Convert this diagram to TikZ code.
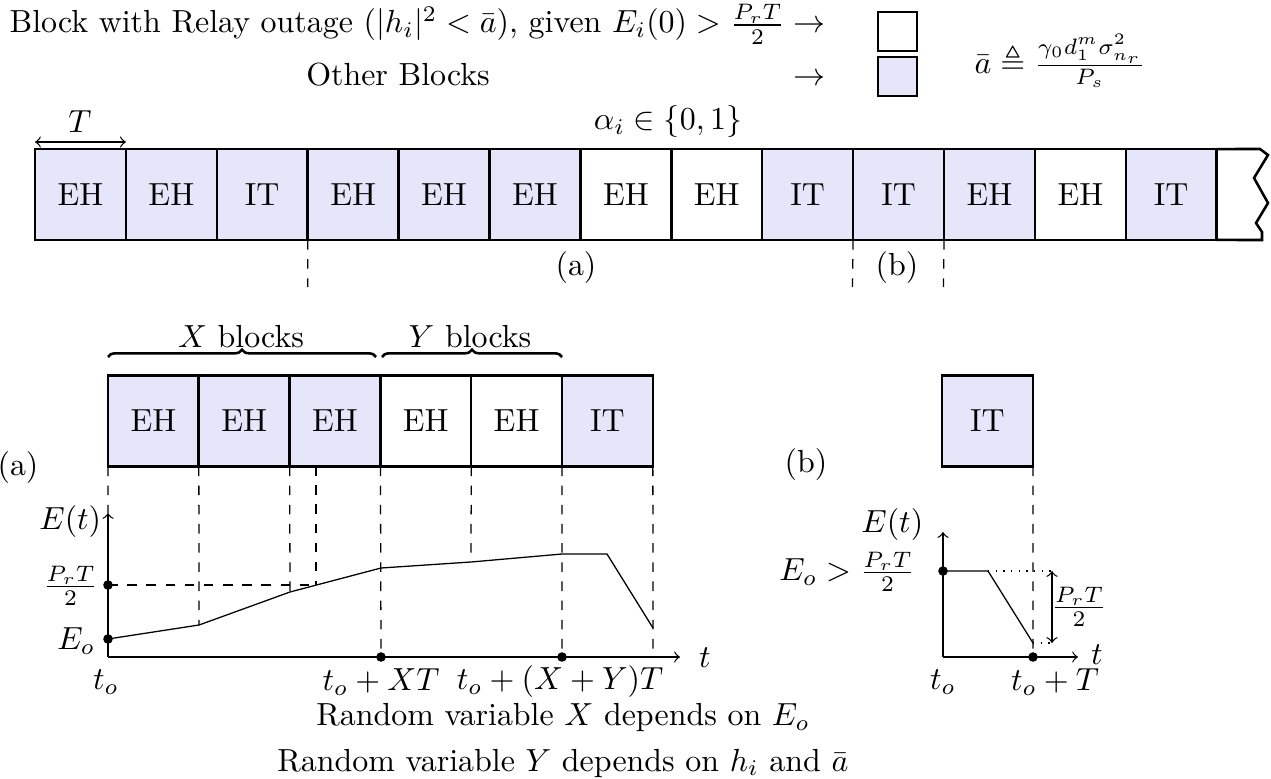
\documentclass[tikz,border=0pt]{standalone}
\usepackage{amsmath,amssymb}
\usetikzlibrary{decorations.pathreplacing}
\definecolor{blockblue}{RGB}{230,230,250}
\tikzset{
  blk/.style={draw, thick, minimum width=1cm, minimum height=1cm, inner sep=0pt, outer sep=0pt},
  legbox/.style={draw, thick, minimum size=0.43cm, inner sep=0pt},
  guide/.style={dashed, thin},
  dotline/.style={dotted, thin},
  curveline/.style={thin},
  axisline/.style={thin, ->},
  dimline/.style={thin, <->},
  dot/.style={circle, fill=black, inner sep=0pt, minimum size=3pt},
  brc/.style={decorate, decoration={brace, amplitude=2.3pt}, thick},
}
\begin{document}
\begin{tikzpicture}[x=0.011cm, y=-0.011cm]
\useasboundingbox (0,0) rectangle (1271,779);

% ---------- legend ----------
\node[anchor=base west, inner sep=0pt] (leg1) at (9,33) {Block with Relay outage ($|h_i|^2<\bar{a}$), given $E_i(0)>\frac{P_rT}{2}\rightarrow$};
\node[anchor=base, inner sep=0pt] (leg2) at (398,86) {Other Blocks};
\node[anchor=base east, inner sep=0pt] (leg2a) at (leg1.base east |- 0,86) {$\rightarrow$};
\node[legbox, fill=white] (lw) at (897.5,31.5) {};
\node[legbox, fill=blockblue] (lb) at (897.5,76.5) {};
\node[inner sep=1pt] (abar) at (1060,61) {$\bar{a}\triangleq\frac{\gamma_0 d_1^m\sigma_{n_r}^2}{P_s}$};

% ---------- top strip ----------
\foreach \lab/\col [count=\k] in {EH/blockblue,EH/blockblue,IT/blockblue,EH/blockblue,EH/blockblue,EH/blockblue,EH/white,EH/white,IT/blockblue,IT/blockblue,EH/blockblue,EH/white,IT/blockblue}
  \node[blk, fill=\col] (s\k) at ({80.45+90.9*(\k-1)},194.5) {\lab};
\draw[thick] (s13.north east) -- (1260,149) -- (1268,155) -- (1254,178) -- (1268,203) -- (1256,223) -- (1262,232) -- (1262,240) -- (s13.south east);

\coordinate (tl) at ([yshift=2.2pt]s1.north west);
\coordinate (tr) at ([yshift=2.2pt]s1.north east);
\draw[dimline] (tl) -- (tr);
\node (Tlab) at (80,122) {$T$};
\node (alpha) at (668,122) {$\alpha_i\in\{0,1\}$};

\coordinate (da) at (307.7,287);
\coordinate (db1) at (852.5,287);
\coordinate (db2) at (943.4,287);
\draw[guide] (s3.south east) -- (da);
\draw[guide] (s9.south east) -- (db1);
\draw[guide] (s10.south east) -- (db2);
\node (la) at (576,268) {(a)};
\node (lbb) at (897,268) {(b)};

% ---------- lower (a) ----------
\foreach \lab/\col [count=\k] in {EH/blockblue,EH/blockblue,EH/blockblue,EH/white,EH/white,IT/blockblue}
  \node[blk, fill=\col] (l\k) at ({153.4+90.8*(\k-1)},421) {\lab};

\coordinate (bx1) at (108,357);
\coordinate (bx2) at (376,357);
\coordinate (by1) at (382,357);
\coordinate (by2) at (562,357);
\draw[brc] (bx1) -- (bx2);
\draw[brc] (by1) -- (by2);
\node (xb) at (241,337) {$X$ blocks};
\node (yb) at (470,337) {$Y$ blocks};
\node (pa) at (18,468) {(a)};

% axes
\coordinate (oa) at (108,657);
\coordinate (ya) at (108,513);
\coordinate (xa) at (680,657);
\draw[axisline] (oa) -- (ya);
\draw[axisline] (oa) -- (xa);
\node[anchor=east, inner sep=1pt] (Eta) at (105,522) {$E(t)$};
\node (ta) at (705,658) {$t$};

% curve points
\coordinate (c0) at (108,639);
\coordinate (c1) at (199,625);
\coordinate (c2) at (290,592);
\coordinate (c3) at (381,568);
\coordinate (c4) at (471,562);
\coordinate (c5) at (562,554);
\coordinate (c6) at (607,554);
\coordinate (c7) at (653,628);
\coordinate (hp) at (108,585);
\coordinate (hq) at (316,585);
\coordinate (hq0) at (316,466);
\coordinate (x1) at (381,657);
\coordinate (x2) at (562,657);
\coordinate (x3) at (653,657);

% guides
\draw[guide] (l1.south west) -- (ya);
\draw[guide] (l1.south east) -- (c1);
\draw[guide] (l2.south east) -- (c2);
\draw[guide] (hq0) -- (hq);
\draw[guide] (l3.south east) -- (x1);
\draw[guide] (l4.south east) -- (c4);
\draw[guide] (l5.south east) -- (x2);
\draw[guide] (l6.south east) -- (x3);
\draw[guide] (hp) -- (hq);

\draw[curveline] (c0) -- (c1) -- (c2) -- (c3) -- (c4) -- (c5) -- (c6) -- (c7);
\node[dot] (d1) at (hp) {};
\node[dot] (d2) at (c0) {};
\node[dot] (d3) at (x1) {};
\node[dot] (d4) at (x2) {};

\node[anchor=east, inner sep=1pt] (prta) at (102,586) {$\frac{P_rT}{2}$};
\node[anchor=east, inner sep=1pt] (Eoa) at (99,641) {$E_o$};
\node (toa) at (106,682) {$t_o$};
\node (toxt) at (381,682) {$t_o+XT$};
\node (toxyt) at (560,682) {$t_o+(X+Y)T$};

\node (rv1) at (563,718) {Random variable $X$ depends on $E_o$};
\node (rv2) at (563,763) {Random variable $Y$ depends on $h_i$ and $\bar{a}$};

% ---------- lower (b) ----------
\node[blk, fill=blockblue] (rb) at (987.5,421) {IT};
\node (pb) at (806,465) {(b)};
\coordinate (ob) at (943,657);
\coordinate (yb2) at (943,532);
\coordinate (xb2) at (1078,657);
\draw[axisline] (ob) -- (yb2);
\draw[axisline] (ob) -- (xb2);
\node[anchor=east, inner sep=1pt] (Etb) at (927,525) {$E(t)$};
\node (tb) at (1097,655) {$t$};

\coordinate (e0) at (943,571);
\coordinate (e1) at (988,571);
\coordinate (e2) at (1033,643);
\coordinate (e3) at (1033,657);
\coordinate (f1) at (1053,571);
\coordinate (f2) at (1053,643);
\coordinate (g1) at (1052,571);
\coordinate (g2) at (1052,643);

\draw[guide] (rb.south east) -- (e3);
\draw[curveline] (e0) -- (e1) -- (e2);
\draw[dotline] (e1) -- (f1);
\draw[dotline] (e2) -- (f2);
\draw[dimline] (g1) -- (g2);
\node[dot] (d5) at (e0) {};
\node[dot] (d6) at (e3) {};

\node[anchor=east, inner sep=1pt] (Eob) at (919,572) {$E_o>\frac{P_rT}{2}$};
\node (prtb) at (1079,607) {$\frac{P_rT}{2}$};
\node (tob) at (943,682) {$t_o$};
\node (totb) at (1055,682) {$t_o+T$};
\end{tikzpicture}
\end{document}
